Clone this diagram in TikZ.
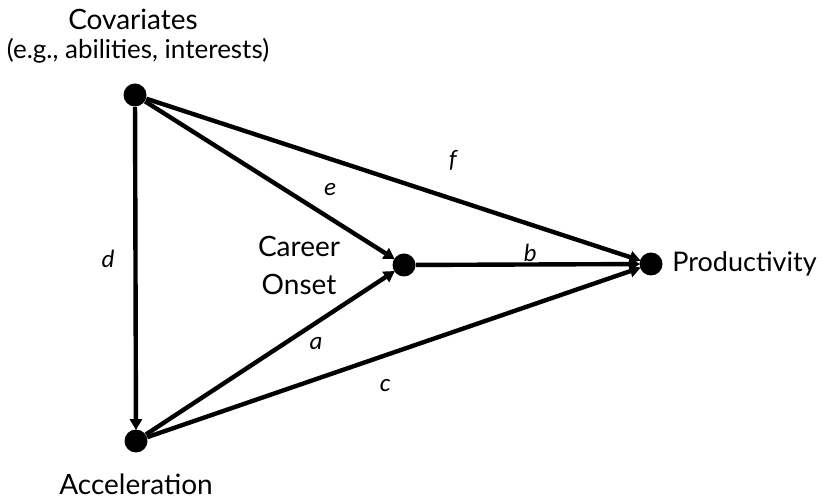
\documentclass[tikz,border=0pt]{standalone}
\usepackage{fontspec}
\setmainfont{Lato}
\newfontfamily\labelfont{Carlito}
\usetikzlibrary{arrows.meta}
\tikzset{
  dotnode/.style={circle, fill=black, inner sep=0pt, minimum size=11.5pt},
  varlabel/.style={font=\fontsize{14}{19}\selectfont, align=center, inner sep=1pt},
  varsub/.style={font=\fontsize{13}{15}\selectfont, inner sep=1pt},
  pathlabel/.style={font=\labelfont\itshape\fontsize{12.5}{14}\selectfont, inner sep=1pt},
  pathedge/.style={draw=black, line width=2.2pt, -{Triangle[length=5.5pt, width=6pt]}, shorten >=-0.5pt}
}

\begin{document}
\begin{tikzpicture}[x=0.5pt, y=-0.5pt]
  \useasboundingbox (0,0) rectangle (823,501);
  % variables
  \node[dotnode] (cov) at (135,95) {};
  \node[dotnode] (acc) at (136,441) {};
  \node[dotnode] (car) at (404,265) {};
  \node[dotnode] (pro) at (651,264) {};
  % variable names
  \node[varlabel] (covname) at (133,19) {Covariates};
  \node[varsub] (covsub) at (138,51) {(e.g., abilities, interests)};
  \node[varlabel] (accname) at (136,484) {Acceleration};
  \node[varlabel] (carname) at (299,265) {Career\\Onset};
  \node[varlabel, font=\fontsize{13.5}{16}\selectfont, anchor=west] (proname) at (670,264) {Productivity};
  % paths
  \draw[pathedge] (cov) -- (acc);
  \draw[pathedge] (cov) -- (car);
  \draw[pathedge] (cov) -- (pro);
  \draw[pathedge] (acc) -- (car);
  \draw[pathedge] (acc) -- (pro);
  \draw[pathedge] (car) -- (pro);
  % path labels
  \node[pathlabel] (lf) at (453,160) {f};
  \node[pathlabel] (le) at (330,190) {e};
  \node[pathlabel] (ld) at (108,259) {d};
  \node[pathlabel] (lb) at (530,253) {b};
  \node[pathlabel] (la) at (316,344) {a};
  \node[pathlabel] (lc) at (385,386) {c};
\end{tikzpicture}
\end{document}
